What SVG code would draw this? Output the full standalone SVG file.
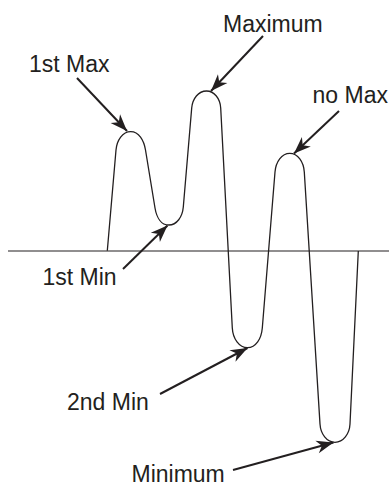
<svg xmlns="http://www.w3.org/2000/svg" width="389" height="486" viewBox="0 0 389 486">
<style>
.lbl{font-family:"Liberation Sans",Arial,sans-serif;font-size:23px;fill:#231f20}
.curve{fill:none;stroke:#231f20;stroke-width:1.3;stroke-linejoin:round}
.axis{fill:none;stroke:#231f20;stroke-width:1.1}
.arr{fill:none;stroke:#231f20;stroke-width:2;marker-end:url(#ah)}
</style>
<defs>
<marker id="ah" markerUnits="userSpaceOnUse" markerWidth="20" markerHeight="14" viewBox="-17 -7 18 14" refX="0" refY="0" orient="auto">
<path d="M0,0 L-17,-6.5 L-12,0 L-17,6.5 Z" fill="#231f20"/>
</marker>
</defs>
<g id="axis">
<line class="axis" x1="8" y1="251" x2="389" y2="251"/>
</g>
<g id="signal">
<path class="curve" d="M107.3,250.7 L116,150 C116.9,140 122.6,131.7 130.7,131.7 C138.8,131.7 143.9,140 145.5,150 L155,208 C156.6,217.5 161.2,225 168.8,225 C176.8,225 182.4,217 183.3,207 L191.7,108 C192.5,98.7 198.4,91 206.5,91 C214.3,91 220.2,98.7 220.7,108 L232.3,328 C232.9,338.8 239.2,347.7 247.5,347.7 C255.8,347.7 261.4,338.8 262.3,328 L275,172 C275.8,161.7 281.7,153.3 289.8,153.3 C297.8,153.3 303.7,161.7 304.3,172 L320,424 C320.6,434 326.8,442.3 335,442.3 C343.2,442.3 349.5,434 350,424 L358.3,251"/>
</g>
<g id="connectors">
<line class="arr" x1="77" y1="78" x2="127" y2="131"/>
<line class="arr" x1="263" y1="36" x2="211" y2="91"/>
<line class="arr" x1="339" y1="111" x2="294" y2="153.5"/>
<line class="arr" x1="123" y1="269" x2="167.5" y2="225.5"/>
<line class="arr" x1="160" y1="394" x2="247.5" y2="348"/>
<line class="arr" x1="233" y1="470" x2="333.5" y2="442.5"/>
</g>
<g id="label-1st-max"><text class="lbl" x="29" y="72">1st Max</text></g>
<g id="label-maximum"><text class="lbl" x="223" y="32">Maximum</text></g>
<g id="label-no-max"><text class="lbl" x="312.5" y="102.5">no Max</text></g>
<g id="label-1st-min"><text class="lbl" x="42.5" y="285">1st Min</text></g>
<g id="label-2nd-min"><text class="lbl" x="67" y="410">2nd Min</text></g>
<g id="label-minimum"><text class="lbl" x="131.5" y="482">Minimum</text></g>
</svg>
